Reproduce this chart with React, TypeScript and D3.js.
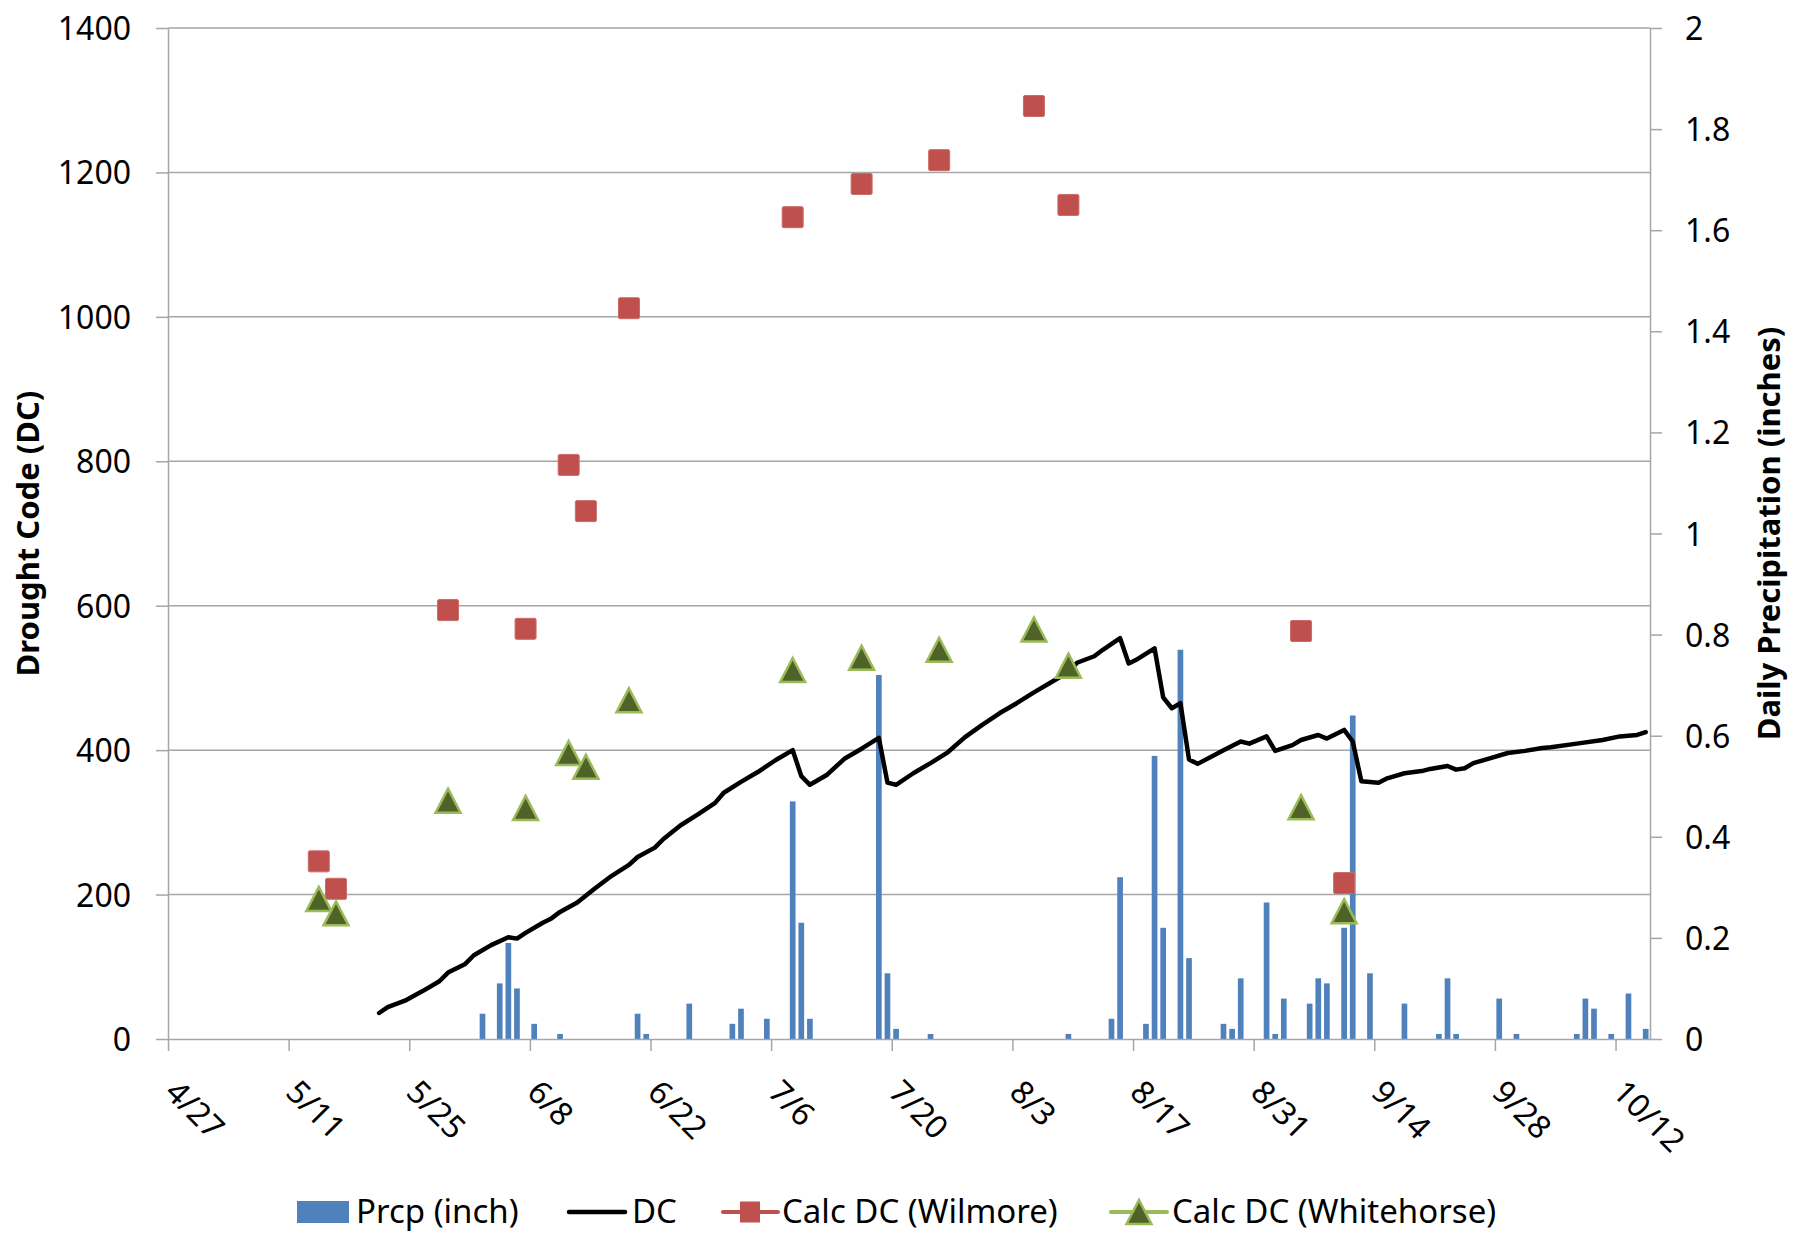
import { useEffect, useRef } from "react";
import * as d3 from "d3";

const YEAR = 2013;
const FONT = "'Noto Sans', 'Open Sans', sans-serif";

const xTickLabels = ["4/27", "5/11", "5/25", "6/8", "6/22", "7/6", "7/20", "8/3", "8/17", "8/31", "9/14", "9/28", "10/12"];
const dcTicks = [0, 200, 400, 600, 800, 1000, 1200, 1400];
const prcpTicks = [0, 0.2, 0.4, 0.6, 0.8, 1, 1.2, 1.4, 1.6, 1.8, 2];

// daily precipitation (inches), only days with rain
const prcpDates = ["6/2", "6/4", "6/5", "6/6", "6/8", "6/11", "6/20", "6/21", "6/26",
  "7/1", "7/2", "7/5", "7/8", "7/9", "7/10", "7/18", "7/19", "7/20", "7/24",
  "8/9", "8/14", "8/15", "8/18", "8/19", "8/20", "8/22", "8/23", "8/27", "8/28", "8/29",
  "9/1", "9/2", "9/3", "9/6", "9/7", "9/8", "9/10", "9/11", "9/13", "9/17", "9/21", "9/22", "9/23", "9/28", "9/30",
  "10/7", "10/8", "10/9", "10/11", "10/13", "10/15"];
const prcpInches = [0.05, 0.11, 0.19, 0.10, 0.03, 0.01, 0.05, 0.01, 0.07,
  0.03, 0.06, 0.04, 0.47, 0.23, 0.04, 0.72, 0.13, 0.02, 0.01,
  0.01, 0.04, 0.32, 0.03, 0.56, 0.22, 0.77, 0.16, 0.03, 0.02, 0.12,
  0.27, 0.01, 0.08, 0.07, 0.12, 0.11, 0.22, 0.64, 0.13, 0.07, 0.01, 0.12, 0.01, 0.08, 0.01,
  0.01, 0.08, 0.06, 0.01, 0.09, 0.02];

// drought code
const dcDates = ["5/21", "5/22", "5/24", "5/26", "5/28", "5/29", "5/31",
  "6/1", "6/3", "6/5", "6/6", "6/7", "6/9", "6/10", "6/11", "6/13", "6/15", "6/17", "6/19", "6/20", "6/22", "6/23", "6/25", "6/27", "6/29", "6/30",
  "7/2", "7/4", "7/6", "7/8", "7/9", "7/10", "7/12", "7/14", "7/16", "7/18", "7/19", "7/20", "7/22", "7/24", "7/26", "7/28", "7/30",
  "8/1", "8/3", "8/5", "8/7", "8/9", "8/10", "8/12", "8/13", "8/15", "8/16", "8/17", "8/19", "8/20", "8/21", "8/22", "8/23", "8/24", "8/27", "8/29", "8/30",
  "9/1", "9/2", "9/4", "9/5", "9/7", "9/8", "9/10", "9/11", "9/12", "9/14", "9/15", "9/17", "9/19", "9/20", "9/22", "9/23", "9/24", "9/25", "9/27", "9/29",
  "10/1", "10/3", "10/4", "10/7", "10/10", "10/12", "10/14", "10/15"];
const dcValues = [36, 44, 53, 66, 80, 92, 104,
  116, 130, 141, 139, 147, 161, 167, 176, 189, 208, 226, 241, 252, 265, 277, 296, 311, 327, 341,
  356, 370, 386, 400, 364, 352, 366, 388, 402, 417, 355, 352, 368, 382, 397, 418, 435,
  451, 465, 480, 494, 508, 521, 530, 539, 555, 520, 526, 541, 473, 458, 465, 387, 381, 400, 412, 409,
  419, 399, 407, 414, 421, 416, 428, 412, 357, 355, 361, 368, 371, 374, 378, 373, 375, 382, 389, 396,
  399, 403, 404, 409, 414, 419, 421, 425];

// calculated DC at sampling dates
const sampleDates = ["5/14", "5/16", "5/29", "6/7", "6/12", "6/14", "6/19", "7/8", "7/16", "7/25", "8/5", "8/9", "9/5", "9/10"];
const wilmoreDC = [246, 208, 594, 568, 795, 731, 1012, 1138, 1184, 1217, 1292, 1155, 565, 216];
const whitehorseDC = [194, 174, 330, 320, 396, 377, 469, 511, 528, 539, 567, 517, 321, 177];

const BLUE = "#4F81BD";
const RED = "#C0504D";
const OLIVE = "#4F6228";
const GREEN = "#9BBB59";
const GRID = "#a6a6a6";

const parse = (s: string) => {
  const [m, d] = s.split("/").map(Number);
  return new Date(Date.UTC(YEAR, m - 1, d));
};

const triPath = (w: number, h: number) => `M0,${-h / 2}L${w / 2},${h / 2}L${-w / 2},${h / 2}Z`;

export default function App() {
  const svgRef = useRef<SVGSVGElement>(null);

  useEffect(() => {
    const width = 1806;
    const height = 1240;
    const left = 168, right = 1650, top = 28, bottom = 1039;

    const svg = d3.select(svgRef.current).attr("width", width).attr("height", height);
    svg.selectAll("*").remove();

    const x = d3.scaleUtc().domain([parse("4/27"), parse("10/16")]).range([left, right]);
    const yL = d3.scaleLinear().domain([0, 1400]).range([bottom, top]);
    const yR = d3.scaleLinear().domain([0, 2]).range([bottom, top]);
    const cx = (s: string) => x(d3.utcHour.offset(parse(s), 12));
    const dayW = x(parse("4/28")) - x(parse("4/27"));
    const bw = dayW * 0.66;

    // gridlines
    svg.append("g")
      .selectAll("line")
      .data(dcTicks.filter((d) => d > 0))
      .join("line")
      .attr("x1", left)
      .attr("x2", right)
      .attr("y1", (d) => yL(d))
      .attr("y2", (d) => yL(d))
      .attr("stroke", GRID)
      .attr("stroke-width", 1.5);

    // precipitation bars
    svg.append("g")
      .selectAll("rect")
      .data(prcpDates)
      .join("rect")
      .attr("x", (d) => cx(d) - bw / 2)
      .attr("width", bw)
      .attr("y", (d, i) => yR(prcpInches[i]))
      .attr("height", (d, i) => yR(0) - yR(prcpInches[i]))
      .attr("fill", BLUE);

    const styleAxis = (g: any) => {
      g.attr("font-family", FONT).attr("font-size", 32);
      g.selectAll(".domain, .tick line").attr("stroke", GRID).attr("stroke-width", 1.5);
      g.selectAll("text").attr("fill", "#000");
    };

    svg.append("g")
      .attr("transform", `translate(${left},0)`)
      .call(d3.axisLeft(yL).tickValues(dcTicks).tickSize(12).tickSizeOuter(0).tickPadding(25).tickFormat(d3.format("d")))
      .call(styleAxis)
      .call((g: any) => g.selectAll("text").attr("dy", "0.36em"));

    svg.append("g")
      .attr("transform", `translate(${right},0)`)
      .call(d3.axisRight(yR).tickValues(prcpTicks).tickSize(12).tickSizeOuter(0).tickPadding(23).tickFormat(d3.format("~g")))
      .call(styleAxis)
      .call((g: any) => g.selectAll("text").attr("dy", "0.36em"));

    svg.append("g")
      .attr("transform", `translate(0,${bottom})`)
      .call(d3.axisBottom(x).tickValues(xTickLabels.map(parse)).tickSize(12).tickSizeOuter(0).tickFormat(d3.utcFormat("%-m/%-d") as any))
      .call(styleAxis)
      .call((g: any) =>
        g.selectAll("text")
          .attr("x", 0)
          .attr("y", 0)
          .attr("dy", null)
          .attr("text-anchor", "start")
          .attr("transform", "translate(-5,55) rotate(45)")
      );

    // DC line
    const line = d3.line<string>()
      .x((d) => cx(d))
      .y((d, i) => yL(dcValues[i]));
    svg.append("path")
      .attr("d", line(dcDates))
      .attr("fill", "none")
      .attr("stroke", "#000")
      .attr("stroke-width", 4.5)
      .attr("stroke-linejoin", "round")
      .attr("stroke-linecap", "round");

    // Wilmore squares
    svg.append("g")
      .selectAll("rect")
      .data(sampleDates)
      .join("rect")
      .attr("x", (d) => cx(d) - 10.5)
      .attr("y", (d, i) => yL(wilmoreDC[i]) - 10.5)
      .attr("width", 21)
      .attr("height", 21)
      .attr("rx", 1.5)
      .attr("fill", RED)
      .attr("stroke", "#cd6a67")
      .attr("stroke-width", 1);

    // Whitehorse triangles
    svg.append("g")
      .selectAll("path")
      .data(sampleDates)
      .join("path")
      .attr("transform", (d, i) => `translate(${cx(d)},${yL(whitehorseDC[i])})`)
      .attr("d", triPath(25, 24))
      .attr("fill", OLIVE)
      .attr("stroke", GREEN)
      .attr("stroke-width", 2.5)
      .attr("stroke-linejoin", "miter");

    // axis titles
    svg.append("text")
      .attr("transform", `translate(39,${(top + bottom) / 2}) rotate(-90)`)
      .attr("text-anchor", "middle")
      .attr("font-family", FONT)
      .attr("font-weight", "bold")
      .attr("font-size", 31)
      .text("Drought Code (DC)");

    svg.append("text")
      .attr("transform", `translate(1780,${(top + bottom) / 2}) rotate(-90)`)
      .attr("text-anchor", "middle")
      .attr("font-family", FONT)
      .attr("font-weight", "bold")
      .attr("font-size", 31)
      .text("Daily Precipitation (inches)");

    // legend
    const ly = 1212;
    const legend = svg.append("g").attr("font-family", FONT).attr("font-size", 33);
    legend.append("rect").attr("x", 297).attr("y", ly - 11).attr("width", 52).attr("height", 22).attr("fill", BLUE);
    legend.append("line").attr("x1", 569).attr("x2", 625).attr("y1", ly).attr("y2", ly)
      .attr("stroke", "#000").attr("stroke-width", 4.5).attr("stroke-linecap", "round");
    legend.append("line").attr("x1", 723).attr("x2", 778).attr("y1", ly).attr("y2", ly)
      .attr("stroke", RED).attr("stroke-width", 4).attr("stroke-linecap", "round");
    legend.append("rect").attr("x", 740).attr("y", ly - 10.5).attr("width", 20).attr("height", 21).attr("fill", RED);
    legend.append("line").attr("x1", 1111).attr("x2", 1167).attr("y1", ly).attr("y2", ly)
      .attr("stroke", GREEN).attr("stroke-width", 4).attr("stroke-linecap", "round");
    legend.append("path").attr("transform", `translate(1139,${ly})`).attr("d", triPath(25, 24))
      .attr("fill", OLIVE).attr("stroke", GREEN).attr("stroke-width", 2.5);
    const labelX = [356, 632, 782, 1172];
    const labels = ["Prcp (inch)", "DC", "Calc DC (Wilmore)", "Calc DC (Whitehorse)"];
    legend.selectAll("text.lab")
      .data(labels)
      .join("text")
      .attr("class", "lab")
      .attr("x", (d, i) => labelX[i])
      .attr("y", ly + 11)
      .attr("fill", "#000")
      .text((d) => d);
  }, []);

  return <svg ref={svgRef} style={{ position: "absolute", left: 0, top: 0, background: "#fff" }}></svg>;
}
